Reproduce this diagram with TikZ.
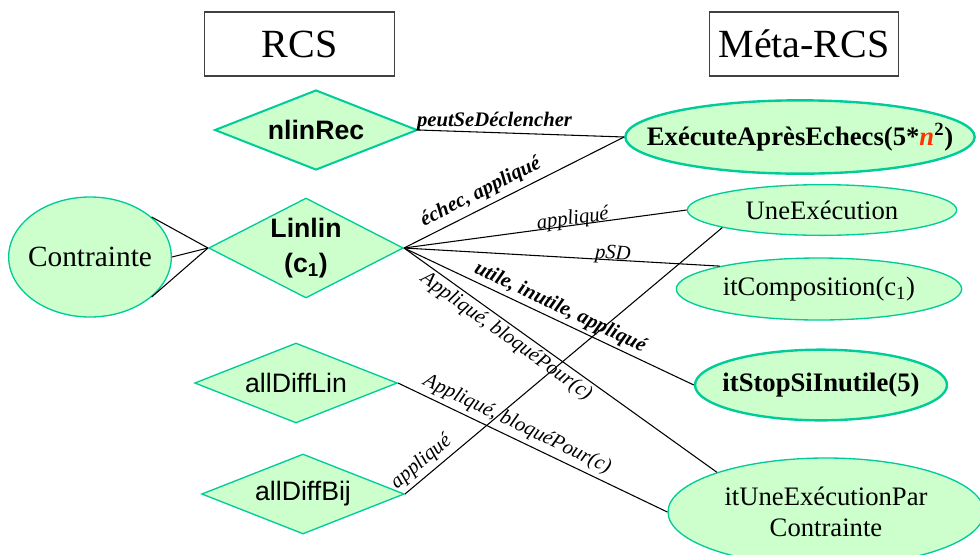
\documentclass[tikz,border=0pt]{standalone}
\usepackage{fontspec}
\setmainfont{Liberation Serif}
\setsansfont{Liberation Sans}
\usetikzlibrary{shapes.geometric}
\definecolor{vertclair}{HTML}{CCFFCC}
\definecolor{vertbord}{HTML}{00CC99}
\definecolor{rouge}{HTML}{FF3300}

\begin{document}
\begin{tikzpicture}[x=0.75pt, y=-0.75pt,
    titre/.style={draw=black!75, line width=0.8pt, minimum width=142pt, minimum height=48pt, inner sep=0pt, font=\fontsize{30}{32}\selectfont},
    ent/.style={ellipse, draw=vertbord, fill=vertclair, line width=1pt, inner sep=0pt},
    etxt/.style={inner sep=0pt, align=center, font=\fontsize{20}{23}\selectfont},
    rel/.style={diamond, shape aspect=2.5, draw=vertbord, fill=vertclair, line width=1pt, inner sep=0pt, align=center, font=\sffamily\fontsize{20}{26}\selectfont},
    lien/.style={line width=0.8pt},
    lbl/.style={inner sep=2pt, font=\itshape\fontsize{15.5}{17}\selectfont},
    lblg/.style={inner sep=2pt, font=\bfseries\itshape\fontsize{15.5}{17}\selectfont}
]
\clip (0,0) rectangle (980,554);

% titres
\node[titre] (rcs) at (299.5,44) {RCS};
\node[titre] (meta) at (804,44) {Méta-RCS};

% relations (RCS)
\node[rel, minimum width=152pt, minimum height=60pt, line width=1.5pt, font=\sffamily\bfseries\fontsize{20}{26}\selectfont] (nlinRec) at (316,130) {nlinRec};
\node[rel, shape aspect=2, minimum width=146pt, minimum height=75pt, font=\sffamily\bfseries\fontsize{20}{26}\selectfont] (linlin) at (306,248) {Linlin\\(c\textsubscript{1})};
\node[rel, minimum width=152pt, minimum height=60pt] (allDiffLin) at (296,383) {allDiffLin};
\node[rel, minimum width=152pt, minimum height=60pt] (allDiffBij) at (303,494) {allDiffBij};

% entites
\node[ent, minimum width=122pt, minimum height=90pt, label={[etxt, font=\fontsize{22}{25}\selectfont]center:Contrainte}] (contrainte) at (90,257) {};
\node[ent, minimum width=262pt, minimum height=55pt, line width=1.8pt, label={[etxt]center:\textbf{ExécuteAprèsEchecs(5*\textcolor{rouge}{\textit{n}}\textsuperscript{2})}}] (execEchecs) at (800,137) {};
\node[ent, minimum width=202pt, minimum height=38pt, label={[etxt]center:UneExécution}] (uneExec) at (822,210) {};
\node[ent, minimum width=214pt, minimum height=46.5pt, label={[etxt]center:itComposition(c\textsubscript{1})}] (itComp) at (819,289) {};
\node[ent, minimum width=189pt, minimum height=53pt, line width=1.8pt, label={[etxt]center:\textbf{itStopSiInutile(5)}}] (itStop) at (821,385) {};
\node[ent, minimum width=237pt, minimum height=81pt, label={[etxt]center:{itUneExécutionPar\\Contrainte}}] (itUneExec) at (826,512) {};

% liens
\foreach \a in {33,0,-33}
  \draw[lien] (contrainte.\a) -- (linlin.west);
\draw[lien] (nlinRec.east) -- node[lblg, pos=0.37, above, inner sep=1pt] {peutSeDéclencher} (execEchecs.west);
\draw[lien] (linlin.east) -- node[lblg, pos=0.38, above, sloped, inner sep=4pt] {échec, appliqué} (execEchecs.west);
\draw[lien] (linlin.east) -- node[lbl, pos=0.6, above, sloped, inner sep=0pt, yshift=-3pt] {appliqué} (uneExec.west);
\draw[lien] (linlin.east) -- node[lbl, pos=0.66, above, sloped, inner sep=0pt, yshift=-3pt] {pSD} (itComp.167);
\draw[lien] (linlin.east) -- node[lblg, pos=0.52, above, sloped] {utile, inutile, appliqué} (itStop.west);
\draw[lien] (linlin.east) -- node[lbl, pos=0.35, below, sloped] {Appliqué, bloquéPour(c)} (itUneExec.160);
\draw[lien] (allDiffLin.east) -- node[lbl, pos=0.42, above, sloped, inner sep=3pt] {Appliqué, bloquéPour(c)} (itUneExec.west);
\draw[lien] (allDiffBij.east) -- node[lbl, pos=0.08, above, sloped, inner sep=3pt] {appliqué} (uneExec.190.8);
\end{tikzpicture}
\end{document}
